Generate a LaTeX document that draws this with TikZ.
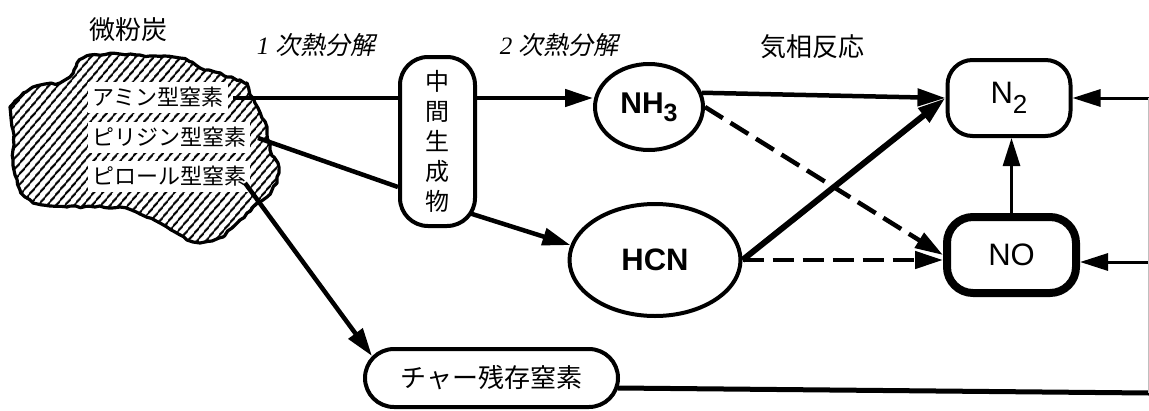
\documentclass[tikz,border=0pt]{standalone}
\usepackage{fontspec}
\newfontfamily\jp{Noto Sans CJK JP}
\newfontfamily\jpit[FakeSlant=0.2]{Noto Sans CJK JP}
\newfontfamily\arial{Liberation Sans}
\newfontfamily\tnr{Liberation Serif}
\usetikzlibrary{arrows.meta,patterns.meta,decorations.pathmorphing,calc,shapes.geometric}
\pgfdeclarelayer{back}
\pgfdeclarelayer{edges}
\pgfsetlayers{back,edges,main}
\tikzset{
  arr/.style={-{Triangle[length=28pt,width=17pt]}, line width=4.5pt},
  dsh/.style={dash pattern=on 21pt off 9pt},
  lab/.style={fill=white, inner xsep=4pt, inner ysep=0pt, minimum height=31pt, anchor=west, font=\jp\fontsize{22}{22}\selectfont},
  head/.style={font=\jpit\fontsize{25}{25}\selectfont},
  rbox/.style={draw, fill=white, line width=4pt},
  ell/.style={draw, ellipse, fill=white, line width=4pt, inner sep=0pt, font=\arial\bfseries\fontsize{30}{30}\selectfont},
}
\begin{document}
\begin{tikzpicture}[x=1pt,y=-1pt]
\useasboundingbox (0,0) rectangle (1149,410);
\pgfmathsetseed{7}
% headings
\node[font=\jp\fontsize{26}{26}\selectfont] (coal) at (128,30) {微粉炭};
\node[head] (h1) at (316,45) {{\tnr\itshape 1}\hspace{6pt}次熱分解};
\node[head] (h2) at (559,45) {{\tnr\itshape 2}\hspace{6pt}次熱分解};
\node[font=\jp\fontsize{26}{26}\selectfont] (h3) at (812,47) {気相反応};

\begin{pgfonlayer}{back}
\draw[decorate, decoration={random steps, segment length=5pt, amplitude=1.2pt}, line width=3.2pt, line join=round,
      pattern={Lines[angle=50,distance=6.5pt,line width=2.2pt]}]
  (90,55) -- (120,54) -- (150,56) -- (180,58) -- (192,62) -- (200,68) -- (215,72) -- (227,77) -- (240,80) -- (247,83)
  -- (250,95) -- (258,108) -- (262,118) -- (267,127) -- (268,140) -- (270,150) -- (274,157) -- (278,163) -- (279,173)
  -- (277,183) -- (272,190) -- (267,197) -- (260,202) -- (253,207) -- (247,213) -- (240,220) -- (232,228) -- (223,237)
  -- (212,241) -- (200,243) -- (193,242) -- (187,240) -- (175,232) -- (160,223) -- (140,214) -- (120,207) -- (95,207)
  -- (67,207) -- (50,206) -- (33,203) -- (25,197) -- (20,190) -- (15,175) -- (13,160) -- (14,145) -- (13,130)
  -- (11,118) -- (10,107) -- (15,101) -- (20,97) -- (26,92) -- (33,87) -- (45,84) -- (60,83) -- (65,80) -- (70,77)
  -- (74,70) -- (77,63) -- (83,58) -- cycle;
\node[lab] (amine) at (88,97.5) {アミン型窒素};
\node[lab] (pyri) at (88,137) {ピリジン型窒素};
\node[lab] (pyrr) at (88,176) {ピロール型窒素};
\end{pgfonlayer}

% main nodes
\node[rbox, rounded corners=28pt, minimum width=75pt, minimum height=169pt, align=center,
      font=\jp\fontsize{24}{30}\selectfont] (mid) at (437.5,141.5) {中\\間\\生\\成\\物};
\node[ell, minimum width=108pt, minimum height=86pt] (nh3) at (649,107) {NH\raisebox{-8pt}{\fontsize{25}{25}\selectfont 3}};
\node[ell, minimum width=171pt, minimum height=112pt, font=\arial\bfseries\fontsize{31}{31}\selectfont] (hcn) at (655,260) {HCN};
\node[rbox, rounded corners=25pt, minimum width=123pt, minimum height=76pt, font=\arial\fontsize{31}{31}\selectfont] (n2) at (1009,98) {N\raisebox{-10pt}{\fontsize{26}{26}\selectfont 2}};
\node[rbox, line width=8pt, rounded corners=26pt, minimum width=129pt, minimum height=76pt, font=\arial\fontsize{31}{31}\selectfont] (no) at (1011.5,255) {NO};
\node[rbox, rounded corners=29pt, minimum width=253pt, minimum height=58pt, font=\jp\fontsize{26}{26}\selectfont] (char) at (491.5,378) {チャー残存窒素};

% free ends
\coordinate (s1) at (233,98);
\coordinate (s2) at (258,138);
\coordinate (s3) at (245,183);
\coordinate (m1) at (398,187);
\coordinate (m2) at (450,207);
\coordinate (c1) at (372,356);
\coordinate (c2) at (618,388);
\coordinate (r1) at (1149,98);
\coordinate (r2) at (1149,262);
\coordinate (r3) at (1149,393);

\begin{pgfonlayer}{edges}
\draw[arr] (s1) -- (s1 -| nh3.west);
\draw[line width=4.5pt] (s2) -- (m1);
\draw[arr] (m2) -- (hcn.170);
\draw[arr] (s3) -- (c1);
\draw[arr] (nh3.15) -- (n2.west);
\draw[arr, dsh] (nh3.east) -- (no.west);
\draw[arr, line width=6pt] (hcn.east) -- (n2.west);
\draw[arr, dsh] (hcn.east) -- (hcn.east -| no.west);
\draw[arr, line width=2.8pt] (no.north) -- (no.north |- n2.south);
\draw[arr, line width=3pt] (r1) -- (n2.east);
\draw[arr, line width=3pt] (r2) -- (r2 -| no.east);
\draw[line width=5pt] (c2) -- (r3);
\draw[line width=0.6pt, black!25] (1148.6,98) -- (1148.6,393);
\end{pgfonlayer}
\end{tikzpicture}
\end{document}
